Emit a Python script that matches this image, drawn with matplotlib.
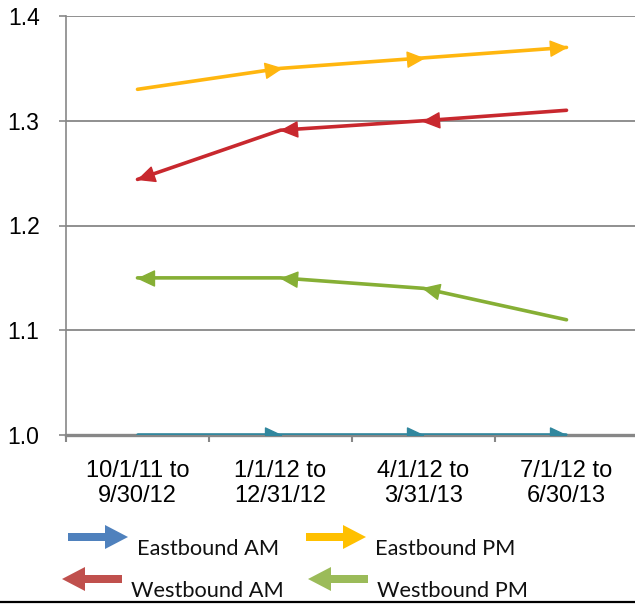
import numpy as np
import matplotlib.pyplot as plt
from matplotlib.path import Path
from matplotlib.markers import MarkerStyle
from matplotlib.transforms import Affine2D
from matplotlib.patches import Polygon
from matplotlib.lines import Line2D

# data
periods = ['10/1/11 to\n9/30/12', '1/1/12 to\n12/31/12', '4/1/12 to\n3/31/13', '7/1/12 to\n6/30/13']
eastbound_am = [1.00, 1.00, 1.00, 1.00]
eastbound_pm = [1.33, 1.35, 1.36, 1.37]
westbound_am = [1.244, 1.291, 1.30, 1.31]
westbound_pm = [1.15, 1.15, 1.14, 1.11]

series = [
    # name, values, line colour, legend colour, direction (+1 east, -1 west)
    ('Eastbound AM', eastbound_am, '#31879E', '#4F81BD', 1),
    ('Eastbound PM', eastbound_pm, '#FFB60F', '#FFC000', 1),
    ('Westbound AM', westbound_am, '#C8282E', '#C0504D', -1),
    ('Westbound PM', westbound_pm, '#86AF35', '#9BBB59', -1),
]

W, H = 635, 605
fig = plt.figure(figsize=(W / 100, H / 100), dpi=100)
ax = fig.add_axes([66 / W, 1 - 435 / H, 1 - 66 / W, (435 - 16) / H])

x = np.arange(len(periods))
ax.set_xlim(-0.5, -0.5 + (W - 66) / 143)
ax.set_ylim(1.0, 1.4)

grid_col = '#878787'
for y in [1.1, 1.2, 1.3, 1.4]:
    ax.axhline(y, color=grid_col, lw=1.3, zorder=1)

for s in ['top', 'right']:
    ax.spines[s].set_visible(False)
ax.spines['left'].set_color(grid_col)
ax.spines['left'].set_linewidth(1.2)
ax.spines['bottom'].set_color(grid_col)
ax.spines['bottom'].set_linewidth(2.4)
ax.spines['bottom'].set_zorder(1)

ax.set_yticks([1.0, 1.1, 1.2, 1.3, 1.4])
ax.set_yticklabels(['1.0', '1.1', '1.2', '1.3', '1.4'])
ax.set_xticks(x)
ax.set_xticklabels(periods, linespacing=1.15)
ax.set_xticks(np.arange(-0.5, 3.5, 1.0), minor=True)
ax.tick_params(axis='x', which='major', length=0, pad=18,
               labelsize=17, labelfontfamily='Liberation Sans')
ax.tick_params(axis='x', which='minor', length=5, width=1.5, color=grid_col)
ax.tick_params(axis='y', length=5, width=1.2, color=grid_col, pad=14,
               labelsize=16.5, labelfontfamily='Liberation Sans')

# arrow head with its tip at the point
head = Path([(0, 0), (-1, 0.47), (-1, -0.47), (0, 0)],
            [Path.MOVETO, Path.LINETO, Path.LINETO, Path.CLOSEPOLY])

for name, vals, col, lcol, d in series:
    ax.plot(x, vals, color=col, lw=2.6, solid_capstyle='round', zorder=3)
    pts = ax.transData.transform(np.column_stack([x, vals]))
    if d > 0:
        idx = range(1, len(x))
        prev = [i - 1 for i in idx]
    else:
        idx = range(0, len(x) - 1)
        prev = [i + 1 for i in idx]
    for i, j in zip(idx, prev):
        dx, dy = pts[i] - pts[j]
        ang = np.degrees(np.arctan2(dy, dx))
        m = MarkerStyle(head, transform=Affine2D().rotate_deg(ang))
        ax.plot([x[i]], [vals[i]], marker=m, ms=23, color=col, mec=col,
                lw=0, zorder=4)


# legend drawn by hand: fat arrows and text
def arrow(x_tail, x_tip, yc, col):
    d = 1 if x_tip > x_tail else -1
    hl, hw, sw = 23, 12, 4
    xb = x_tip - d * hl
    pts = [(x_tail, yc - sw), (xb, yc - sw), (xb, yc - hw), (x_tip, yc),
           (xb, yc + hw), (xb, yc + sw), (x_tail, yc + sw)]
    pts = [(px / W, 1 - py / H) for px, py in pts]
    fig.add_artist(Polygon(pts, closed=True, transform=fig.transFigure,
                           facecolor=col, edgecolor='none'))


leg = [
    (68, 128, 537, 137, 555),
    (306, 366, 537, 375, 555),
    (122, 62, 579, 131, 597),
    (368, 308, 579, 377, 597),
]
for (name, vals, col, lcol, d), (xa, xb, yc, tx, ty) in zip(series, leg):
    arrow(xa, xb, yc, lcol)
    fig.text(tx / W, 1 - ty / H, name, fontsize=15.7, family='Lato',
             va='baseline', ha='left', color='#111111')

fig.add_artist(Line2D([0, 1], [1 - 602 / H, 1 - 602 / H], color='black',
                      lw=1.6, transform=fig.transFigure))

fig.savefig('out.png', dpi=100)
